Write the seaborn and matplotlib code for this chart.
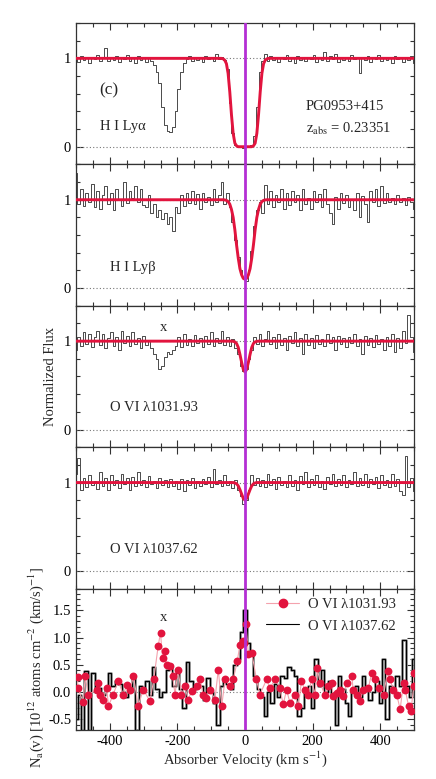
import numpy as np
import pandas as pd
import matplotlib
matplotlib.use("Agg")
import matplotlib.pyplot as plt
from matplotlib.ticker import MultipleLocator, FixedLocator, FormatStrFormatter
from matplotlib.lines import Line2D
import seaborn as sns

# ---------------- data ----------------
# spectral pixel grid (km/s), 8 km/s sampling from -500 to +500
vel = np.arange(-500, 501, 8)

flux_lya = [1.00, 0.96, 1.03, 0.98, 1.01, 0.95, 1.02, 0.99, 1.04, 0.97,
            1.00, 1.12, 0.97, 1.01, 0.98, 1.03, 0.96, 1.02, 0.99, 1.04,
            0.97, 1.00, 0.95, 1.03, 0.98, 1.02, 0.96, 1.00, 0.97, 0.92,
            0.85, 0.72, 0.45, 0.25, 0.18, 0.17, 0.22, 0.40, 0.65, 0.85,
            0.95, 0.99, 1.03, 0.97, 1.02, 0.98, 1.01, 0.96, 1.03, 0.99,
            1.02, 0.97, 1.05, 0.99, 1.01, 0.98, 0.88, 0.50, 0.15, 0.02,
            0.00, 0.01, -0.01, 0.01, 0.00, 0.02, 0.12, 0.45, 0.85, 0.97,
            1.05, 0.97, 1.03, 0.98, 1.01, 0.96, 1.02, 0.99, 1.04, 0.97,
            1.00, 0.95, 1.03, 0.98, 1.02, 0.97, 1.01, 0.99, 1.04, 0.96,
            1.02, 0.98, 1.07, 0.97, 1.03, 0.99, 1.05, 0.96, 1.01, 0.98,
            1.02, 0.97, 1.04, 0.99, 1.01, 0.83, 1.02, 0.98, 1.03, 0.96,
            1.01, 0.99, 1.04, 0.97, 1.02, 0.98, 1.01, 0.95, 1.03, 0.99,
            1.02, 0.96, 1.01, 0.98, 1.03, 0.95]

flux_lyb = [1.30, 0.95, 1.12, 0.93, 1.08, 0.97, 1.18, 0.92, 1.10, 0.90,
            1.05, 1.15, 0.95, 1.08, 0.88, 1.12, 1.00, 0.93, 1.20, 0.96,
            1.10, 1.02, 1.15, 0.97, 1.12, 0.94, 0.92, 1.05, 0.85, 0.95,
            0.80, 0.88, 0.78, 0.85, 0.72, 0.80, 0.65, 0.92, 0.85, 1.05,
            0.93, 1.08, 0.96, 1.10, 0.95, 1.06, 0.90, 1.08, 0.97, 1.03,
            0.94, 1.12, 0.98, 1.05, 1.20, 0.95, 1.08, 0.92, 0.75, 0.55,
            0.35, 0.20, 0.12, 0.08, 0.20, 0.42, 0.70, 0.88, 0.97, 0.85,
            1.17, 0.95, 1.10, 0.92, 1.05, 0.97, 1.12, 0.90, 1.08, 0.94,
            1.10, 0.98, 1.05, 0.88, 1.12, 0.95, 1.02, 0.90, 1.10, 0.97,
            1.06, 0.92, 1.12, 0.95, 0.85, 0.72, 1.03, 0.90, 1.08, 0.96,
            1.05, 0.92, 1.00, 0.88, 1.08, 0.80, 1.04, 0.95, 0.75, 1.10,
            0.97, 1.12, 0.93, 1.15, 0.96, 1.08, 0.98, 1.02, 0.95, 1.05,
            0.97, 1.02, 0.94, 1.03, 0.98, 0.90]

flux_o1031 = [0.90, 1.05, 0.95, 1.10, 0.97, 1.08, 0.93, 1.05, 1.12, 0.96,
              1.08, 0.92, 1.03, 1.10, 0.95, 1.05, 0.90, 1.12, 0.98, 1.06,
              0.94, 1.10, 0.97, 1.04, 0.92, 1.06, 0.96, 1.00, 0.92, 0.85,
              0.80, 0.68, 0.72, 0.82, 0.88, 0.85, 0.90, 0.95, 1.05, 0.93,
              1.08, 0.96, 1.02, 0.95, 1.07, 0.98, 1.04, 0.93, 1.06, 0.97,
              1.10, 0.95, 1.03, 0.98, 1.12, 0.96, 1.05, 0.94, 1.02, 0.92,
              0.85, 0.72, 0.66, 0.68, 0.80, 0.90, 1.05, 0.97, 1.08, 0.95,
              1.02, 1.12, 0.97, 1.05, 0.92, 1.08, 0.96, 1.04, 0.90, 1.06,
              0.98, 1.10, 0.95, 1.03, 0.85, 1.08, 0.96, 1.04, 0.92, 1.07,
              0.97, 1.02, 0.94, 1.08, 0.98, 1.05, 0.90, 1.06, 0.97, 1.03,
              0.93, 1.05, 0.98, 1.08, 0.95, 1.02, 0.85, 1.06, 0.96, 1.04,
              0.93, 1.07, 0.97, 1.02, 0.90, 1.05, 0.95, 1.08, 0.88, 1.03,
              0.92, 1.12, 0.98, 1.30, 1.05, 0.88]

flux_o1037 = [1.10, 1.28, 0.92, 1.05, 0.95, 1.08, 0.97, 1.02, 0.93, 1.12,
              0.96, 1.05, 0.92, 1.08, 0.97, 1.03, 0.94, 1.10, 0.98, 1.05,
              0.92, 1.06, 0.96, 1.12, 0.97, 1.03, 0.95, 1.07, 0.98, 1.02,
              0.94, 1.05, 0.97, 1.03, 0.95, 1.04, 0.96, 1.02, 0.93, 1.04,
              0.90, 1.03, 0.97, 1.05, 0.94, 1.02, 0.96, 1.04, 0.98, 1.06,
              0.95, 1.15, 0.98, 1.03, 0.96, 1.08, 0.97, 1.02, 0.94, 1.03,
              0.92, 0.85, 0.76, 0.80, 0.92, 1.08, 0.97, 1.05, 0.96, 1.03,
              0.95, 1.10, 0.97, 1.04, 0.93, 1.06, 0.97, 1.02, 0.95, 1.08,
              0.96, 1.03, 0.92, 1.07, 0.98, 1.12, 0.95, 1.04, 0.97, 1.08,
              0.95, 1.02, 0.93, 1.06, 0.98, 1.10, 0.96, 1.04, 0.97, 1.08,
              0.95, 1.03, 0.98, 1.12, 0.96, 1.05, 0.97, 1.10, 0.95, 1.04,
              0.98, 1.06, 0.94, 1.08, 0.97, 1.03, 0.95, 1.10, 0.96, 1.04,
              0.90, 0.86, 1.30, 0.95, 1.05, 0.90]

# model profiles (km/s, normalized flux)
model_v = [-500, -80, -70, -65, -60, -55, -50, -45, -40, -35, -30, -25, -20, -15,
           -10, -5, 0, 5, 10, 15, 20, 25, 30, 35, 40, 45, 50, 55, 60, 65, 70, 80, 500]
model_lya = [1.0, 1.0, 1.0, 0.995, 0.98, 0.94, 0.83, 0.62, 0.36, 0.15, 0.04, 0.01, 0.0, 0.0,
             0.0, 0.0, 0.0, 0.0, 0.0, 0.0, 0.0, 0.01, 0.04, 0.15, 0.36, 0.62, 0.83, 0.94, 0.98,
             0.995, 1.0, 1.0, 1.0]
model_lyb = [1.0, 1.0, 1.0, 1.0, 0.998, 0.993, 0.98, 0.95, 0.89, 0.80, 0.66, 0.49, 0.34, 0.22,
             0.15, 0.11, 0.10, 0.11, 0.15, 0.22, 0.34, 0.49, 0.66, 0.80, 0.89, 0.95, 0.98, 0.993,
             0.998, 1.0, 1.0, 1.0, 1.0]
model_o1031 = [1.0, 1.0, 1.0, 1.0, 1.0, 1.0, 1.0, 1.0, 1.0, 0.998, 0.992, 0.974, 0.93, 0.85,
               0.76, 0.68, 0.65, 0.68, 0.76, 0.85, 0.93, 0.974, 0.992, 0.998, 1.0, 1.0, 1.0, 1.0,
               1.0, 1.0, 1.0, 1.0, 1.0]
model_o1037 = [1.0, 1.0, 1.0, 1.0, 1.0, 1.0, 1.0, 1.0, 1.0, 1.0, 0.996, 0.986, 0.963, 0.92,
               0.87, 0.82, 0.80, 0.82, 0.87, 0.92, 0.963, 0.986, 0.996, 1.0, 1.0, 1.0, 1.0, 1.0,
               1.0, 1.0, 1.0, 1.0, 1.0]

# apparent column density profiles
na_v_1037 = np.arange(-500, 501, 10)
na_1037 = [-0.5, -0.05, -0.7, 0.38, -0.7, 0.35, 0.0, 0.08, -0.05, 0.05,
           0.35, 0.1, 0.2, 0.15, 0.0, -0.1, 0.05, 0.25, -0.7, 0.1,
           0.0, 0.2, -0.05, 0.45, 0.05, -0.1, 0.0, 0.4, 0.5, 0.1,
           0.35, 0.05, -0.3, 0.55, 0.2, 0.05, 0.15, 0.1, -0.15, 0.25,
           0.0, -0.2, -0.6, 0.1, 0.25, 0.15, 0.05, 0.5, 0.6, 1.1,
           1.5, 0.9, 0.75, 0.3, 0.05, -0.1, -0.45, 0.0, -0.2, 0.15,
           -0.1, 0.3, 0.25, 0.45, 0.4, 0.3, -0.45, -0.3, 0.0, 0.1,
           -0.3, 0.6, 0.1, 0.4, 0.0, 0.2, -0.1, -0.6, 0.3, 0.05,
           -0.2, -0.45, 0.0, 0.1, -0.1, 0.3, 0.05, -0.15, 0.0, 0.2,
           -0.2, 0.6, -0.5, 0.1, 0.0, 0.3, 0.1, 0.95, 0.1, -0.1, 0.6]

na_v_1031 = [-495, -495, -478, -473, -464, -439, -434, -429, -419, -409, -404, -390,
             -375, -360, -350, -340, -330, -316, -301, -281, -270, -257, -250, -244,
             -237, -232, -222, -214, -207, -198, -188, -178, -168, -158, -143, -133,
             -124, -114, -104, -89, -79, -69, -59, -44, -35, -23, -15, -7, -2, 3,
             10, 20, 34, 44, 64, 74, 89, 103, 113, 123, 133, 148, 158, 167, 177,
             187, 197, 207, 214, 222, 236, 246, 256, 261, 271, 281, 291, 301, 316,
             320, 330, 340, 350, 365, 375, 385, 395, 410, 422, 429, 439, 449, 459,
             469, 474, 484, 491, 499, 499]
na_1031 = [0.27, 0.07, -0.19, 0.30, -0.05, 0.04, 0.16, -0.05, -0.14, 0.07, -0.26, -0.05,
           0.20, -0.05, 0.13, 0.04, 0.29, -0.25, 0.04, -0.17, 0.23, 0.84, 1.09, 0.63,
           0.75, 0.50, 0.48, 0.29, -0.05, 0.41, -0.05, 0.10, -0.14, 0.01, 0.10, 0.23,
           -0.05, -0.11, 0.04, -0.14, 0.41, -0.26, 0.23, 0.10, 0.23, 0.56, 0.87, 0.93, 0.90, 1.24,
           0.69, 0.72, 0.23, -0.05, 0.23, 0.07, 0.23, 0.07, -0.23, 0.04, -0.20, -0.05, -0.26,
           0.20, 0.04, -0.05, 0.23, -0.05, 0.44, 0.17, -0.05, 0.10, 0.17, -0.08, -0.02,
           0.04, -0.08, 0.17, 0.29, 0.04, -0.05, -0.17, 0.04, 0.07, 0.35, 0.23, 0.07,
           -0.05, 0.38, 0.23, 0.04, -0.05, -0.32, 0.17, 0.04, -0.26, -0.35, 0.10, 0.35]

panel_labels = ["H I Ly\u03b1", "H I Ly\u03b2", "O VI \u03bb1031.93", "O VI \u03bb1037.62"]
legend_labels = ["O VI \u03bb1031.93", "O VI \u03bb1037.62"]
x_ticks = [-400, -200, 0, 200, 400]

# ---------------- style ----------------
sns.set_theme(style="ticks")
plt.rcParams["font.family"] = ["Liberation Serif", "DejaVu Serif"]
plt.rcParams.update({
    "mathtext.fontset": "stix",
    "axes.unicode_minus": False,
    "font.size": 10.5,
    "axes.edgecolor": "#333333",
    "axes.linewidth": 0.9,
    "xtick.color": "#333333",
    "ytick.color": "#333333",
    "xtick.labelcolor": "black",
    "ytick.labelcolor": "black",
})

W, H = 436, 779
fig = plt.figure(figsize=(W / 100, H / 100), dpi=100)
left, right = 76 / W, 414 / W
top_px, bot_px = 23, 730
ph = (bot_px - top_px) / 5 / H

axes = []
for k in range(5):
    b = 1 - (top_px / H) - (k + 1) * ph
    axes.append(fig.add_axes([left, b, right - left, ph]))

DATA_C = "#4a4a4a"
RED = "#e2143e"
MAG = "#b42fd4"

spectra = [flux_lya, flux_lyb, flux_o1031, flux_o1037]
models = [model_lya, model_lyb, model_o1031, model_o1037]

def style_axis(ax):
    ax.set_xlim(-500, 500)
    ax.xaxis.set_major_locator(FixedLocator(x_ticks))
    ax.xaxis.set_minor_locator(MultipleLocator(50))
    ax.tick_params(which="both", direction="in", top=True, right=True,
                   labelsize=10.5, width=0.8)
    ax.tick_params(which="major", length=5)
    ax.tick_params(which="minor", length=3)
    ax.set_xlabel("")
    ax.set_ylabel("")

for k in range(4):
    ax = axes[k]
    ax.axhline(0, ls=(0, (1, 2)), color="#777777", lw=0.8, zorder=1)
    ax.axhline(1, ls=(0, (1, 2)), color="#777777", lw=0.8, zorder=1)
    sns.lineplot(x=vel, y=spectra[k], ax=ax, color=DATA_C, lw=0.7,
                 drawstyle="steps-mid", estimator=None, legend=False, zorder=2)
    sns.lineplot(x=model_v, y=models[k], ax=ax, color=RED, lw=2.1,
                 estimator=None, legend=False, zorder=3)
    ax.axvline(0, color=MAG, lw=2, zorder=4)
    ax.set_ylim(-0.2, 1.4)
    ax.yaxis.set_major_locator(FixedLocator([0, 1]))
    ax.yaxis.set_minor_locator(MultipleLocator(0.2))
    ax.yaxis.set_major_formatter(FormatStrFormatter("%d"))
    style_axis(ax)
    ax.tick_params(labelbottom=False)
    ax.text(-430 if k == 0 else -400, 0.23 if k < 2 else 0.245, panel_labels[k],
            fontsize=10.5, va="center", ha="left")

axes[0].text(-430, 0.64, "(c)", fontsize=12.5, va="center", ha="left")
axes[0].text(180, 0.45, "PG0953+415", fontsize=10.5, va="center", ha="left")
axes[0].text(180, 0.20, r"z$_{\rm abs}$ = 0.23351", fontsize=10.5, va="center", ha="left")
axes[2].text(-242, 1.16, "x", fontsize=10.5, va="center", ha="center")

# bottom panel: apparent column densities
ax = axes[4]
ax.axhline(0, ls=(0, (1, 2)), color="#777777", lw=0.8, zorder=1)
sns.lineplot(x=na_v_1037, y=na_1037, ax=ax, color="#8a8a8a", lw=1.9,
             drawstyle="steps-mid", estimator=None, legend=False, zorder=2)
sns.lineplot(x=na_v_1037, y=na_1037, ax=ax, color="black", lw=0.8,
             drawstyle="steps-mid", estimator=None, legend=False, zorder=2.5)
sns.lineplot(x=na_v_1031, y=na_1031, ax=ax, color="#f4a2ad", lw=0.8,
             sort=False, estimator=None, legend=False, zorder=3)
sns.scatterplot(x=na_v_1031, y=na_1031, ax=ax, color=RED, s=32,
                edgecolor=RED, linewidth=0, legend=False, zorder=3.5)
ax.axvline(0, color=MAG, lw=2, zorder=4)
ax.set_ylim(-0.7, 1.9)
ax.yaxis.set_major_locator(FixedLocator([-0.5, 0.0, 0.5, 1.0, 1.5]))
ax.yaxis.set_minor_locator(MultipleLocator(0.1))
ax.yaxis.set_major_formatter(FormatStrFormatter("%.1f"))
style_axis(ax)
ax.text(-242, 1.36, "x", fontsize=10.5, va="center", ha="center")
ax.set_xlabel(r"Absorber Velocity (km s$^{-1}$)", fontsize=10.5, labelpad=1)

handles = [Line2D([], [], color="#f4a2ad", lw=0.8, marker="o", ms=6,
                  markerfacecolor=RED, markeredgecolor=RED),
           Line2D([], [], color="black", lw=0.8)]
ax.legend(handles, legend_labels, loc="upper right", frameon=False, fontsize=10.5,
          handlelength=2.3, handletextpad=0.6, labelspacing=0.55,
          bbox_to_anchor=(0.975, 1.0), borderaxespad=0.25)

fig.text(50 / W, 1 - 376 / H, "Normalized Flux", rotation=90, ha="center",
         va="center", fontsize=10.5)
fig.text(36 / W, 1 - 667 / H,
         r"N$_{\rm a}$(v) [10$^{12}$ atoms cm$^{-2}$ (km/s)$^{-1}$]",
         rotation=90, ha="center", va="center", fontsize=10.5)

fig.savefig("out.png", dpi=100)
